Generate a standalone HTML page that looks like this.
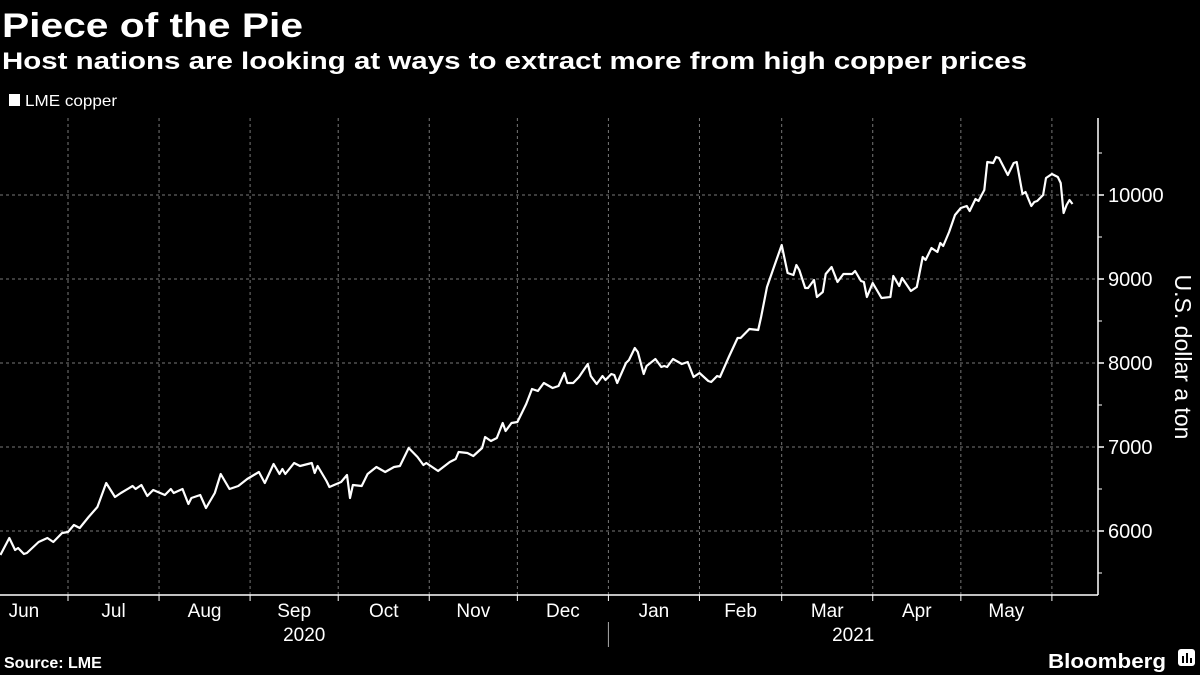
<!DOCTYPE html>
<html><head><meta charset="utf-8"><style>
html,body{margin:0;padding:0;background:#000;}
svg{display:block;font-family:"Liberation Sans",sans-serif;}
</style></head><body>
<svg id="chart" width="1200" height="675" viewBox="0 0 1200 675" xmlns="http://www.w3.org/2000/svg">
<rect x="0" y="0" width="1200" height="675" fill="#000"/>
<text x="2" y="37" fill="#fff" font-size="34" font-weight="bold" textLength="301" lengthAdjust="spacingAndGlyphs">Piece of the Pie</text>
<text x="2" y="69" fill="#fff" font-size="24" font-weight="bold" textLength="1025" lengthAdjust="spacingAndGlyphs">Host nations are looking at ways to extract more from high copper prices</text>
<g>
<rect x="9" y="94" width="11" height="12" fill="#fff"/>
<text x="25" y="106" fill="#fff" font-size="16" textLength="92" lengthAdjust="spacingAndGlyphs">LME copper</text>
</g>
<g id="grid"></g>
<g id="axes"></g>
<path id="line" fill="none" stroke="#fff" stroke-width="2.2" stroke-linejoin="round"/>
<text transform="translate(1175,357) rotate(90)" text-anchor="middle" fill="#fff" font-size="23">U.S. dollar a ton</text>
<text x="4" y="668" fill="#fff" font-size="16" font-weight="bold">Source: LME</text>
<text x="1048" y="668" fill="#fff" font-size="20" font-weight="bold" textLength="118" lengthAdjust="spacingAndGlyphs">Bloomberg</text>
<g>
<rect x="1178" y="649" width="17" height="17" rx="3" fill="#fff"/>
<rect x="1182" y="656" width="2" height="7" fill="#000"/><rect x="1186" y="653" width="2" height="10" fill="#000"/><rect x="1190" y="658" width="2" height="5" fill="#000"/>
</g>
</svg>
<script>
// days since 2020-07-01
const days = [-23,-20,-18,-17,-15,-14,-10,-7,-5,-2,0,2,4,7,10,13,16,18,22,23,25,27,29,33,35,36,39,41,42,45,47,50,52,55,58,61,65,67,70,72,73,74,77,79,83,84,85,88,89,93,95,96,97,100,102,105,108,111,113,116,119,121,122,126,130,132,133,136,138,141,142,144,146,148,149,151,153,156,158,160,162,165,167,169,170,172,174,177,178,180,182,183,185,186,187,190,191,193,194,196,197,200,202,203,204,206,209,211,213,215,218,219,221,222,225,228,229,232,235,236,238,240,243,245,247,248,249,251,252,254,255,257,258,260,262,264,267,268,270,271,272,274,277,280,281,283,284,287,289,291,292,294,296,297,298,300,302,304,306,307,309,310,312,313,315,316,317,320,322,323,325,326,328,329,330,332,333,335,337,338,339,340,341,342];
const prices = [5714,5917,5774,5798,5726,5738,5869,5917,5869,5976,5988,6071,6036,6167,6286,6571,6405,6452,6536,6500,6548,6417,6488,6429,6500,6452,6500,6321,6393,6429,6274,6452,6679,6500,6536,6619,6702,6571,6798,6679,6738,6679,6810,6774,6810,6690,6774,6595,6524,6583,6667,6393,6548,6536,6679,6762,6702,6762,6774,6988,6881,6786,6810,6714,6821,6857,6940,6929,6893,6988,7119,7071,7107,7286,7190,7286,7298,7512,7690,7667,7762,7702,7726,7881,7762,7762,7833,7988,7845,7750,7845,7798,7869,7857,7762,8000,8036,8179,8131,7869,7964,8048,7952,7964,7952,8048,7988,8012,7833,7881,7786,7774,7845,7833,8071,8298,8298,8405,8393,8548,8905,9107,9405,9071,9048,9167,9107,8893,8893,8988,8786,8845,9060,9143,8964,9060,9060,9095,8976,8964,8786,8952,8774,8786,9036,8917,9012,8857,8905,9262,9226,9369,9321,9429,9393,9560,9762,9845,9869,9810,9952,9929,10060,10393,10381,10452,10440,10238,10381,10393,10012,10036,9869,9917,9929,10000,10202,10250,10214,10143,9786,9881,9940,9893];
const yTicks = [6000,7000,8000,9000,10000];
const yMinorTicks = [5500,6500,7500,8500,9500,10500];
const monthStarts = [-30,0,31,62,92,123,153,184,215,243,274,304,335];
const monthLabels = ["Jun","Jul","Aug","Sep","Oct","Nov","Dec","Jan","Feb","Mar","Apr","May"];
const years = [{label:"2020",from:-30,to:184},{label:"2021",from:184,to:365}];

const NS="http://www.w3.org/2000/svg";
const plotL=0, plotR=1098, plotT=118, plotB=595;
function xScale(d){ return 68 + d*2.937; }
function yScale(v){ return 195 + (10000 - v)*0.084; }
function mk(tag,attrs,parent){const e=document.createElementNS(NS,tag);for(const k in attrs)e.setAttribute(k,attrs[k]);parent.appendChild(e);return e;}
const grid=document.getElementById('grid'), axes=document.getElementById('axes');

yTicks.forEach(v=>{
  const y=yScale(v);
  const g=mk('line',{x1:plotL,x2:plotR,y1:y,y2:y,stroke:'#777','stroke-width':1,'stroke-dasharray':'3,3'},grid);
  
  
  const t=mk('line',{x1:plotR,x2:plotR+6,y1:y,y2:y,stroke:'#fff','stroke-width':1.5},axes);
  
  
  const l=mk('text',{x:plotR+10,y:y+7,fill:'#fff','font-size':20},axes);
  
  
  l.textContent=v;
});
yMinorTicks.forEach(v=>{
  const y=yScale(v);
  const t=mk('line',{x1:plotR,x2:plotR+4,y1:y,y2:y,stroke:'#fff','stroke-width':1},axes);
  
  
});
monthStarts.forEach((d,i)=>{
  const x=xScale(d);
  if(i>0){
    const g=mk('line',{x1:x,x2:x,y1:plotT,y2:plotB,stroke:'#777','stroke-width':1,'stroke-dasharray':'3,3'},grid);
    
    
    const t=mk('line',{x1:x,x2:x,y1:plotB,y2:plotB+6,stroke:'#fff','stroke-width':1},axes);
    
    
  }
  if(i<monthLabels.length){
    const cx=Math.max(20,(xScale(d)+xScale(monthStarts[i+1]))/2);
    const l=mk('text',{x:cx,y:plotB+22,fill:'#fff','font-size':19,'text-anchor':'middle'},axes);
    
    
    l.textContent=monthLabels[i];
  }
});
years.forEach(yr=>{
  const cx=(Math.max(0,xScale(yr.from))+Math.min(plotR,xScale(yr.to)))/2;
  const l=mk('text',{x:cx,y:plotB+46,fill:'#fff','font-size':19,'text-anchor':'middle'},axes);
  
  
  l.textContent=yr.label;
});
const sep=mk('line',{x1:xScale(184),x2:xScale(184),y1:plotB+27,y2:plotB+52,stroke:'#aaa','stroke-width':1},axes);


const xa=mk('line',{x1:plotL,x2:plotR,y1:plotB,y2:plotB,stroke:'#fff','stroke-width':1.5},axes);


const ya=mk('line',{x1:plotR,x2:plotR,y1:plotT,y2:plotB,stroke:'#fff','stroke-width':1.5},axes);



document.getElementById('line').setAttribute('d',days.map((d,i)=>(i?'L':'M')+xScale(d).toFixed(1)+','+yScale(prices[i]).toFixed(1)).join(''));
</script>
</body></html>
